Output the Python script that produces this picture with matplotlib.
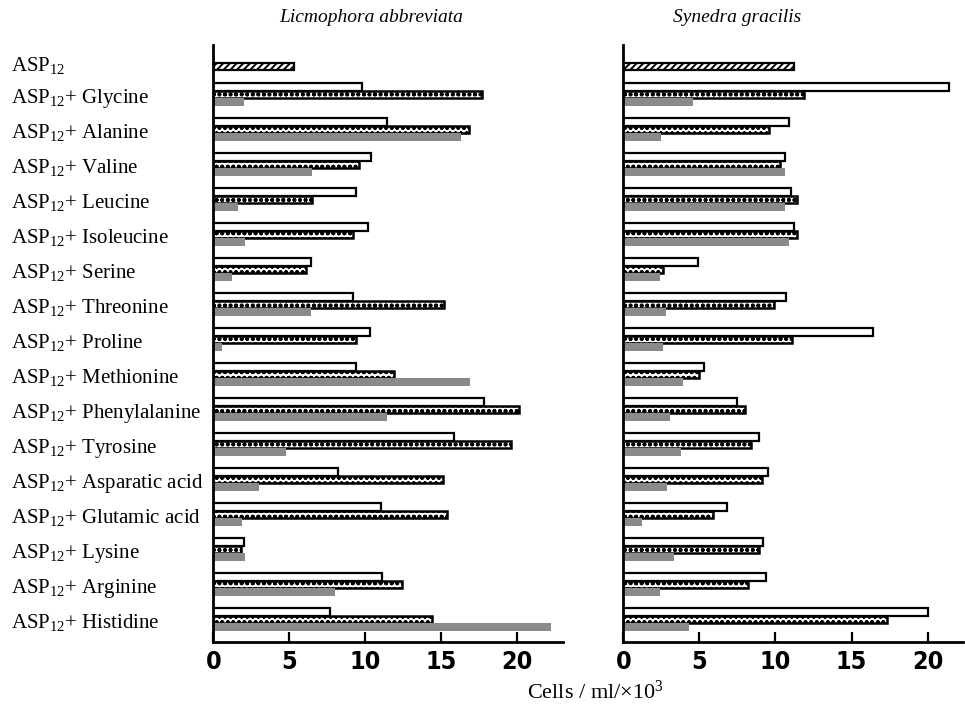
import matplotlib
matplotlib.use("Agg")
import matplotlib.pyplot as plt
import numpy as np

# Amino acids added to the ASP12 medium
amino_acids = ['Glycine', 'Alanine', 'Valine', 'Leucine', 'Isoleucine', 'Serine',
               'Threonine', 'Proline', 'Methionine', 'Phenylalanine', 'Tyrosine',
               'Asparatic acid', 'Glutamic acid', 'Lysine', 'Arginine', 'Histidine']

# Licmophora abbreviata (cells / ml x 10^3)
lic_control = 5.3
lic_white = [9.8, 11.4, 10.4, 9.4, 10.2, 6.4, 9.2, 10.3, 9.4, 17.8, 15.8, 8.2, 11.0, 2.0, 11.1, 7.7]
lic_dotted = [17.7, 16.8, 9.6, 6.5, 9.2, 6.1, 15.2, 9.4, 11.9, 20.1, 19.6, 15.1, 15.4, 1.8, 12.4, 14.4]
lic_gray = [2.0, 16.3, 6.5, 1.6, 2.1, 1.2, 6.4, 0.6, 16.9, 11.4, 4.8, 3.0, 1.9, 2.1, 8.0, 22.2]

# Synedra gracilis (cells / ml x 10^3)
syn_control = 11.2
syn_white = [21.4, 10.9, 10.6, 11.0, 11.2, 4.9, 10.7, 16.4, 5.3, 7.5, 8.9, 9.5, 6.8, 9.2, 9.4, 20.0]
syn_dotted = [11.9, 9.6, 10.3, 11.4, 11.4, 2.6, 9.9, 11.1, 5.0, 8.0, 8.4, 9.1, 5.9, 8.9, 8.2, 17.3]
syn_gray = [4.6, 2.5, 10.6, 10.6, 10.9, 2.4, 2.8, 2.6, 3.9, 3.1, 3.8, 2.9, 1.2, 3.3, 2.4, 4.3]

x_ticks = [0, 5, 10, 15, 20]
row_labels = ['ASP$_{12}$'] + ['ASP$_{12}$+ ' + a for a in amino_acids]

plt.rcParams['mathtext.fontset'] = 'custom'
plt.rcParams['mathtext.rm'] = 'Liberation Serif'
plt.rcParams['mathtext.it'] = 'Liberation Serif:italic'

W, H = 965, 706
fig = plt.figure(figsize=(W / 100, H / 100), dpi=100)

def px_axes(x0, x1, y0, y1):
    return fig.add_axes([x0 / W, 1 - y1 / H, (x1 - x0) / W, (y1 - y0) / H])

ax_l = px_axes(213.3, 563.0, 45, 642)
ax_r = px_axes(623.3, 962.7, 45, 642)

bh = 0.215
n = len(amino_acids)
ypos = np.arange(1, n + 1)

def draw_panel(ax, control, white, dotted, gray, xmax):
    with plt.rc_context({'hatch.linewidth': 1.4}):
        ax.barh([0.2], [control], height=bh, color='white', edgecolor='black',
                linewidth=1.6, hatch='/////')
    ax.barh(ypos - bh, white, height=bh, color='white', edgecolor='black', linewidth=1.6)
    with plt.rc_context({'hatch.linewidth': 1.2}):
        ax.barh(ypos, dotted, height=bh, color='white', edgecolor='black', linewidth=1.8,
                hatch='ooo')
    ax.barh(ypos + bh, gray, height=bh, color='#8a8a8a', edgecolor='none', linewidth=0)
    ax.set_xlim(0, xmax)
    ax.set_ylim(n + 0.64, -0.42)
    for s in ('top', 'right'):
        ax.spines[s].set_visible(False)
    for s in ('left', 'bottom'):
        ax.spines[s].set_linewidth(2.0)
    ax.set_xticks(x_ticks)
    ax.set_xticklabels([str(t) for t in x_ticks],
                       fontdict=dict(family='DejaVu Sans', stretch='condensed',
                                     weight='bold', size=18))
    ax.tick_params(axis='x', direction='in', length=7, width=1.6, pad=6)

draw_panel(ax_l, lic_control, lic_white, lic_dotted, lic_gray, 23.0)
draw_panel(ax_r, syn_control, syn_white, syn_dotted, syn_gray, 22.3)

ax_l.set_yticks([0.1] + list(ypos))
ax_l.set_yticklabels(row_labels, family='Liberation Serif', size=15)
ax_l.tick_params(axis='y', length=0, pad=146)
for lab in ax_l.get_yticklabels():
    lab.set_horizontalalignment('left')
ax_r.set_yticks([])

fig.text(371 / W, 1 - 17 / H, 'Licmophora abbreviata', family='Liberation Serif',
         style='italic', size=14, ha='center', va='center')
fig.text(737 / W, 1 - 18 / H, 'Synedra gracilis', family='Liberation Serif',
         style='italic', size=14, ha='center', va='center')
fig.text(595 / W, 1 - 692 / H, r'Cells / ml/$\times$10$^{3}$', family='Liberation Serif',
         size=16, ha='center', va='center')

fig.savefig('out.png', dpi=100)
